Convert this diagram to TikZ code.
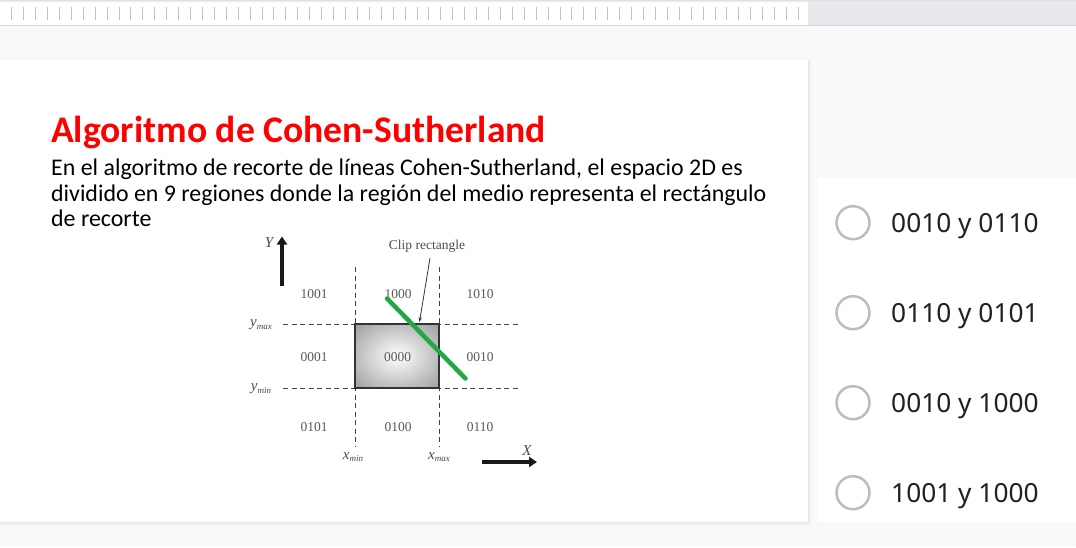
\documentclass[tikz,border=0pt]{standalone}
\usepackage{fontspec}
\setmainfont{Carlito}
\newfontfamily\optfont{Noto Sans}
\newfontfamily\diafont{Liberation Serif}
\usetikzlibrary{arrows.meta}
\definecolor{bg}{HTML}{F8F9FA}
\definecolor{topgrey}{HTML}{E8E9ED}
\definecolor{tickc}{HTML}{BDC1C6}
\definecolor{titlered}{HTML}{FF0000}
\definecolor{optc}{HTML}{202124}
\definecolor{radioc}{HTML}{BDBDBD}
\definecolor{diatext}{HTML}{5A5A5A}
\definecolor{greenline}{HTML}{1DAA44}
\newcommand{\axsub}[2]{{\itshape #1}\raisebox{-2.5pt}{\fontsize{9}{10}\selectfont\itshape #2}}
\tikzset{
  codelbl/.style={font=\diafont\fontsize{13.5}{15}\selectfont, text=diatext, inner sep=0pt},
  axlbl/.style={font=\diafont\itshape\fontsize{15}{17}\selectfont, text=diatext!80!black, inner sep=0pt},
  dashln/.style={draw=black!75, line width=1pt, dash pattern=on 5pt off 3.5pt},
  radio/.style={circle, draw=radioc, line width=2.5pt, minimum size=33pt, inner sep=0pt},
  opttext/.style={font=\optfont\fontsize{26.3}{30}\selectfont, text=optc, anchor=base west, inner sep=0pt},
  bodytext/.style={anchor=base west, inner sep=0pt, font=\fontsize{23.9}{28}\selectfont},
}
\begin{document}
\begin{tikzpicture}[x=1pt,y=-1pt]
\useasboundingbox (0,0) rectangle (1076,547);
% backgrounds
\fill[bg] (0,0) rectangle (1076,547);
\fill[topgrey] (0,0) rectangle (1076,26);
\fill[white] (0,1.5) rectangle (808,25);
\draw[black!15, line width=1pt] (0,25.5) -- (1076,25.5);
\draw[black!12, line width=1pt] (0,0.5) -- (1076,0.5);
\foreach \i in {0,...,66} {
  \draw[tickc, line width=0.9pt] ({11.7+\i*11.92},7) -- ({11.7+\i*11.92},19.5);
}
% main panel with shadow
\fill[black!6] (0,61) rectangle (810.5,524.5);
\fill[black!10] (0,60) rectangle (809,523);
\fill[white] (0,59.5) rectangle (808,522);
% right panel
\fill[white] (818,178) rectangle (1076,522);
% title and text
\node[anchor=base west, inner sep=0pt, text=titlered, font=\bfseries\fontsize{37.6}{40}\selectfont] (title) at (51,142) {Algoritmo de Cohen-Sutherland};
\node[bodytext] (body) at (51,175.5) {En el algoritmo de recorte de líneas Cohen-Sutherland, el espacio 2D es};
\node[bodytext] (body2) at (51,201) {dividido en 9 regiones donde la región del medio representa el rectángulo};
\node[bodytext] (body3) at (51,226.5) {de recorte};
% diagram
\coordinate (xa) at (355,267); \coordinate (xb) at (355,447);
\coordinate (xc) at (439,267); \coordinate (xd) at (439,447);
\coordinate (ya) at (283,324.3); \coordinate (yb) at (518,324.3);
\coordinate (yc) at (283,388); \coordinate (yd) at (518,388);
\draw[dashln] (xa) -- (xb);
\draw[dashln] (xc) -- (xd);
\draw[dashln] (ya) -- (yb);
\draw[dashln] (yc) -- (yd);
\begin{scope}
\clip (355,324.3) rectangle (439,388);
\shade[inner color=white, outer color=black!40] (397,356) ellipse (62 and 48);
\end{scope}
\node[draw=black!80, line width=2.2pt, minimum width=84pt, minimum height=63.7pt, inner sep=0pt] (clip) at (397,356.15) {};
\node[codelbl] (c1001) at (314,294.3) {1001};
\node[codelbl] (c1000) at (398,294.3) {1000};
\node[codelbl] (c1010) at (480,294.3) {1010};
\node[codelbl] (c0001) at (314,357.3) {0001};
\node[codelbl] (c0000) at (397.5,357.3) {0000};
\node[codelbl] (c0010) at (480,357.3) {0010};
\node[codelbl] (c0101) at (314,426.7) {0101};
\node[codelbl] (c0100) at (398,426.7) {0100};
\node[codelbl] (c0110) at (480,426.7) {0110};
\node[axlbl] (ymax) at (261,325) {\axsub{y}{max}};
\node[axlbl] (ymin) at (261,389) {\axsub{y}{min}};
\node[axlbl] (xmin) at (353,457) {\axsub{x}{min}};
\node[axlbl] (xmax) at (439,457) {\axsub{x}{max}};
\node[axlbl] (ylab) at (269,243) {Y};
\node[axlbl] (xlab) at (527,451) {X};
\coordinate (yarr0) at (282,286);
\coordinate (yarr1) at (282,236.5);
\draw[line width=4.5pt, black!90, -{Triangle[length=8pt,width=10pt]}] (yarr0) -- (yarr1);
\coordinate (xarr0) at (482,462);
\coordinate (xarr1) at (537,462);
\draw[line width=4.5pt, black!90, -{Triangle[length=8pt,width=10pt]}] (xarr0) -- (xarr1);
\node[font=\diafont\fontsize{13.5}{15}\selectfont, text=black!70, inner sep=0pt] (cliplbl) at (427,246) {Clip rectangle};
\coordinate (cliparr0) at (430,258);
\coordinate (cliparr1) at (419.5,322);
\draw[black!80, line width=0.8pt, -{Stealth[length=5pt,width=3.5pt]}] (cliparr0) -- (cliparr1);
% green line
\coordinate (g0) at (387,298.5);
\coordinate (g1) at (465.5,378.5);
\draw[greenline, line width=4.5pt, line cap=round] (g0) -- (g1);
% options
\foreach \yy/\txt/\nm in {222.7/0010 y 0110/a, 312.7/0110 y 0101/b, 402.7/0010 y 1000/c, 492.7/1001 y 1000/d} {
  \node[radio] (r\nm) at (853,\yy) {};
  \node[opttext] (t\nm) at (891,\yy+9.5) {\txt};
}
\end{tikzpicture}
\end{document}
